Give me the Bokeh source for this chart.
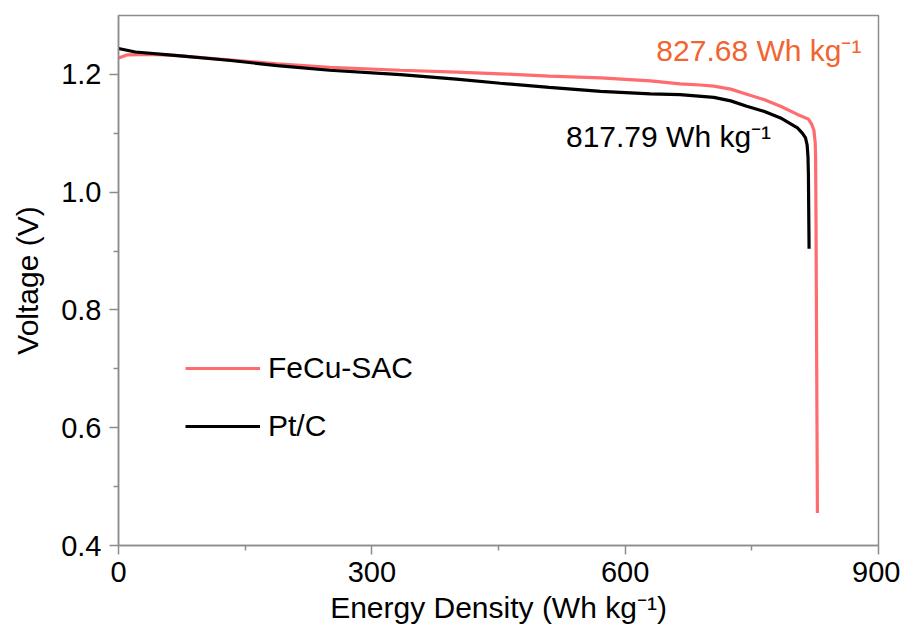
from bokeh.plotting import figure
from bokeh.models import Label, Legend, LegendItem, FixedTicker, PrintfTickFormatter, Range1d
from bokeh.embed import file_html
from bokeh.resources import INLINE

# FeCu-SAC discharge curve
fecu_energy = [0, 10, 40, 70, 120, 188, 250, 334, 400, 452, 510, 571, 630, 665, 689, 705,
               725, 745, 765, 784, 804, 817, 821, 823.5, 825, 825.5, 826, 826.5, 827, 827.68]
fecu_voltage = [1.228, 1.233, 1.234, 1.232, 1.226, 1.218, 1.212, 1.207, 1.204, 1.201, 1.197,
                1.194, 1.189, 1.184, 1.182, 1.180, 1.175, 1.166, 1.157, 1.146, 1.132, 1.124,
                1.115, 1.105, 1.085, 1.06, 0.95, 0.80, 0.65, 0.455]

# Pt/C discharge curve
ptc_energy = [0, 20, 70, 130, 188, 250, 334, 400, 452, 510, 571, 630, 665, 705, 725, 744,
              765, 784, 804, 810, 813.6, 815.5, 816.5, 817, 817.3, 817.79]
ptc_voltage = [1.244, 1.238, 1.232, 1.224, 1.215, 1.207, 1.1995, 1.192, 1.185, 1.178, 1.171,
               1.167, 1.1657, 1.161, 1.155, 1.146, 1.137, 1.126, 1.109, 1.100, 1.092, 1.08,
               1.06, 1.03, 0.98, 0.904]

series_names = ["FeCu-SAC", "Pt/C"]
capacities = [827.68, 817.79]

x_ticks = [0, 300, 600, 900]
y_ticks = [0.4, 0.6, 0.8, 1.0, 1.2]

FONT = "Liberation Sans"
PINK = "#FF6B6E"
ORANGE = "#F26430"
GREY = "#8C8C8C"

p = figure(width=900, height=626, output_backend="svg", toolbar_location=None,
           x_range=Range1d(0, 900), y_range=Range1d(0.4, 1.3),
           min_border_left=118, min_border_right=22, min_border_top=15, min_border_bottom=80)

p.grid.visible = False
p.background_fill_color = "white"
p.border_fill_color = "white"
p.outline_line_color = GREY
p.outline_line_width = 1.5

r1 = p.line(fecu_energy, fecu_voltage, line_color=PINK, line_width=3.2)
r2 = p.line(ptc_energy, ptc_voltage, line_color="black", line_width=3.2)

for ax in (p.xaxis[0], p.yaxis[0]):
    ax.axis_line_color = GREY
    ax.axis_line_width = 1.5
    ax.major_tick_line_color = GREY
    ax.minor_tick_line_color = GREY
    ax.major_tick_line_width = 1.5
    ax.minor_tick_line_width = 1.5
    ax.major_tick_out = 9
    ax.major_tick_in = 0
    ax.minor_tick_out = 5
    ax.minor_tick_in = 0
    ax.major_label_text_font = FONT
    ax.major_label_text_font_size = "29px"
    ax.major_label_text_color = "black"
    ax.axis_label_text_font = FONT
    ax.axis_label_text_font_size = "30px"
    ax.axis_label_text_font_style = "normal"
    ax.axis_label_text_color = "black"

p.xaxis.ticker = FixedTicker(ticks=x_ticks, minor_ticks=[150, 450, 750])
p.yaxis.ticker = FixedTicker(ticks=y_ticks, minor_ticks=[0.5, 0.7, 0.9, 1.1])
p.yaxis.formatter = PrintfTickFormatter(format="%.1f")
p.xaxis.major_label_standoff = 7
p.yaxis.major_label_standoff = 8
p.xaxis.axis_label = "Energy Density (Wh kg\u207b\u00b9)"
p.yaxis.axis_label = "Voltage (V)"
p.xaxis.axis_label_standoff = 6
p.yaxis.axis_label_standoff = 14

legend = Legend(items=[LegendItem(label=series_names[0], renderers=[r1]),
                       LegendItem(label=series_names[1], renderers=[r2])],
                location=(67, 102), orientation="vertical")
legend.border_line_color = None
legend.background_fill_alpha = 0
legend.label_text_font = FONT
legend.label_text_font_size = "30px"
legend.label_text_color = "black"
legend.glyph_width = 75
legend.glyph_height = 30
legend.label_height = 30
legend.spacing = 24
legend.padding = 0
legend.margin = 0
legend.label_standoff = 8
p.add_layout(legend)

lab1 = Label(x=capacities[0], y=1.24, x_offset=44, text=f"{capacities[0]:.2f} Wh kg\u207b\u00b9",
             text_align="right", text_baseline="alphabetic", text_color=ORANGE,
             text_font=FONT, text_font_size="30px")
lab2 = Label(x=capacities[1], y=1.094, x_offset=-38, text=f"{capacities[1]:.2f} Wh kg\u207b\u00b9",
             text_align="right", text_baseline="alphabetic", text_color="black",
             text_font=FONT, text_font_size="30px")
p.add_layout(lab1)
p.add_layout(lab2)

open("out.html", "w").write(file_html(p, INLINE))
